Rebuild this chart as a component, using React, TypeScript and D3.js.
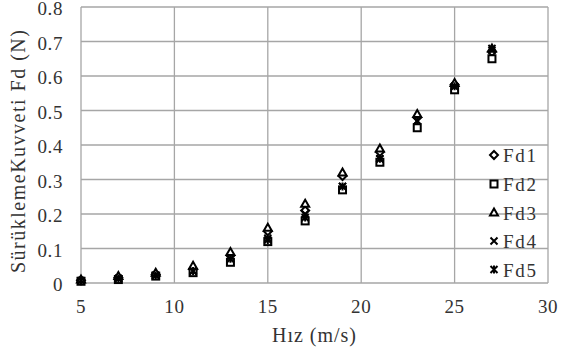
import React from "react";
import * as d3 from "d3";

const speeds = [5, 7, 9, 11, 13, 15, 17, 19, 21, 23, 25, 27];
const fd1 = [0.008, 0.015, 0.025, 0.04, 0.08, 0.15, 0.21, 0.31, 0.38, 0.48, 0.575, 0.67];
const fd2 = [0.005, 0.01, 0.02, 0.03, 0.06, 0.12, 0.18, 0.27, 0.35, 0.45, 0.56, 0.65];
const fd3 = [0.01, 0.02, 0.03, 0.05, 0.09, 0.16, 0.23, 0.32, 0.39, 0.49, 0.58, 0.68];
const fd4 = [0.007, 0.013, 0.022, 0.035, 0.07, 0.13, 0.2, 0.28, 0.36, 0.47, 0.57, 0.675];
const fd5 = [0.007, 0.013, 0.022, 0.035, 0.07, 0.125, 0.19, 0.28, 0.36, 0.47, 0.57, 0.68];
const seriesNames = ["Fd1", "Fd2", "Fd3", "Fd4", "Fd5"];
const seriesValues = [fd1, fd2, fd3, fd4, fd5];
const xTicks = [5, 10, 15, 20, 25, 30];
const yTicks = [0, 0.1, 0.2, 0.3, 0.4, 0.5, 0.6, 0.7, 0.8];

const W = 561, H = 351;
const M = { left: 81, right: 548, top: 7, bottom: 283 };
const FONT = "'Liberation Serif', 'Times New Roman', serif";
const TXT = "#333333";

function Marker({ kind, x, y }: { kind: number; x: number; y: number }) {
  const s = 3.5;
  if (kind === 0) {
    return <path d={`M${x},${y - s - 0.5}L${x + s + 0.5},${y}L${x},${y + s + 0.5}L${x - s - 0.5},${y}Z`} fill="white" stroke="black" strokeWidth={2} />;
  }
  if (kind === 1) {
    return <rect x={x - s} y={y - s} width={2 * s} height={2 * s} fill="white" stroke="black" strokeWidth={2} />;
  }
  if (kind === 2) {
    return <path d={`M${x},${y - s - 0.5}L${x + s + 0.5},${y + s - 0.5}L${x - s - 0.5},${y + s - 0.5}Z`} fill="white" stroke="black" strokeWidth={2} />;
  }
  if (kind === 3) {
    return <path d={`M${x - s},${y - s}L${x + s},${y + s}M${x + s},${y - s}L${x - s},${y + s}`} stroke="black" strokeWidth={2} />;
  }
  return <path d={`M${x - s},${y - s}L${x + s},${y + s}M${x + s},${y - s}L${x - s},${y + s}M${x},${y - s - 0.5}L${x},${y + s + 0.5}`} stroke="black" strokeWidth={2} />;
}

export default function App() {
  const x = d3.scaleLinear().domain([5, 30]).range([M.left, M.right]);
  const y = d3.scaleLinear().domain([0, 0.8]).range([M.bottom, M.top]);
  const legendY = [155, 184, 212.5, 241, 269.5];
  const ts = { fontFamily: FONT } as React.CSSProperties;
  return (
    <svg width={W} height={H} style={{ position: "fixed", left: 0, top: 0, background: "white" }}>
      <rect width={W} height={H} fill="white" />
      {yTicks.map((t) => (
        <line key={"gy" + t} x1={M.left} x2={M.right} y1={y(t)} y2={y(t)} stroke="#a6a6a6" strokeWidth={1.3} />
      ))}
      {xTicks.map((t) => (
        <line key={"gx" + t} x1={x(t)} x2={x(t)} y1={M.top} y2={M.bottom} stroke="#a6a6a6" strokeWidth={1.3} />
      ))}
      {yTicks.map((t) => (
        <text key={"ty" + t} x={63} y={y(t) + 8} textAnchor="end" fontSize={19} letterSpacing={0.6} fill={TXT} style={ts}>
          {d3.format("~g")(t)}
        </text>
      ))}
      {xTicks.map((t) => (
        <text key={"tx" + t} x={x(t)} y={313} textAnchor="middle" fontSize={19} letterSpacing={0.6} fill={TXT} style={ts}>
          {t}
        </text>
      ))}
      <text x={272} y={342} fontSize={20} fill={TXT} style={ts} textLength={84} lengthAdjust="spacing">Hız (m/s)</text>
      <text transform={`translate(25,273) rotate(-90)`} fontSize={20} fill={TXT} style={ts} textLength={243} lengthAdjust="spacing">
        SürüklemeKuvveti Fd  (N)
      </text>
      {seriesValues.map((vals, si) =>
        vals.map((v, i) => <Marker key={`m${si}-${i}`} kind={si} x={x(speeds[i])} y={y(v)} />)
      )}
      {seriesNames.map((n, i) => (
        <g key={n}>
          <Marker kind={i} x={494} y={legendY[i]} />
          <text x={503} y={legendY[i] + 7} fontSize={19} fill={TXT} style={ts} textLength={33} lengthAdjust="spacing">{n}</text>
        </g>
      ))}
    </svg>
  );
}
